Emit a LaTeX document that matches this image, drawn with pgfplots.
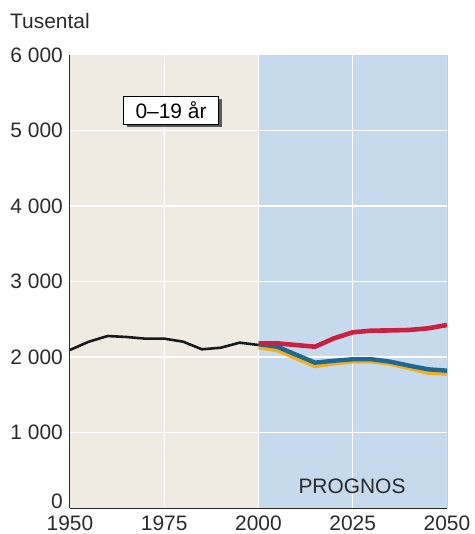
\documentclass[border=0pt]{standalone}
\usepackage{pgfplots}
\pgfplotsset{compat=1.18}
\usepackage{fontspec}
\setmainfont{Liberation Sans}
\usetikzlibrary{shadows}
\definecolor{beige}{HTML}{EFEBE2}
\definecolor{lblue}{HTML}{C6DAEE}
\definecolor{lred}{HTML}{C9213F}
\definecolor{lbl}{HTML}{1E6896}
\definecolor{lyel}{HTML}{F2B01E}
\definecolor{axc}{HTML}{2A2A2A}
\begin{document}
\fontsize{21}{24}\selectfont
\begin{tikzpicture}
\path[use as bounding box] (-70bp,-26bp) rectangle (405bp,508bp);
\begin{axis}[
  at={(0,0)}, anchor=south west,
  scale only axis, width=377bp, height=453bp,
  xmin=1950, xmax=2050, ymin=0, ymax=6000,
  axis x line=bottom, axis y line=left,
  axis line style={-, axc, line width=1.2pt},
  xtick={1950,1975,2000,2025,2050},
  xticklabels={1950,1975,2000,2025,2050},
  ytick={0,1000,2000,3000,4000,5000,6000},
  yticklabels={\smash{\raisebox{-1bp}{0}},1 000,2 000,3 000,4 000,5 000,6 000},
  major tick length=0pt,
  tick label style={font=\fontsize{21}{24}\selectfont, text=axc},
  /pgf/number format/assume math mode=true,
  yticklabel style={xshift=0bp},
  xticklabel style={anchor=north, inner sep=0pt, yshift=-8bp},
  clip=false,
]
\fill[beige] (axis cs:1950,0) rectangle (axis cs:2000,6000);
\fill[lblue] (axis cs:2000,0) rectangle (axis cs:2050,6000);
\foreach \yy in {1000,2000,3000,4000,5000}{
  \edef\tmp{\noexpand\draw[white, line width=1.5pt] (axis cs:1950,\yy) -- (axis cs:2050,\yy);}\tmp
}
\draw[white, line width=1.5pt] (axis cs:1975,0) -- (axis cs:1975,6000);
\draw[white, line width=1.5pt] (axis cs:2000,0) -- (axis cs:2000,6000);
\draw[white, line width=1.5pt] (axis cs:2025,0) -- (axis cs:2025,6000);
\draw[gray!40, line width=0.8pt] (axis cs:2050,0) -- (axis cs:2050,6000);

\addplot[lyel, line width=4.4pt, line join=round] coordinates {
(2000,2130) (2005,2090) (2010,1985) (2015,1880) (2020,1915) (2025,1942) (2030,1942) (2035,1912) (2040,1852) (2045,1792) (2050,1780)};
\addplot[lbl, line width=4.4pt, line join=round] coordinates {
(2000,2170) (2005,2136) (2010,2030) (2015,1925) (2020,1950) (2025,1970) (2030,1970) (2035,1938) (2040,1885) (2045,1837) (2050,1819)};
\addplot[lred, line width=4.6pt, line join=round] coordinates {
(2000,2181) (2005,2181) (2010,2158) (2015,2136) (2020,2247) (2025,2327) (2030,2349) (2035,2352) (2040,2358) (2045,2380) (2050,2424)};
\addplot[black!90, line width=2.6pt, line join=round] coordinates {
(1950,2093) (1955,2203) (1960,2278) (1965,2265) (1970,2243) (1975,2243) (1980,2203) (1985,2102) (1990,2123) (1995,2190) (2000,2159)};

\node[draw=black, line width=0.8pt, fill=white, minimum width=95bp, minimum height=28bp, inner sep=0pt,
  drop shadow={shadow xshift=3bp, shadow yshift=-3bp, fill=black!65, opacity=1}]
  at (axis cs:1976.8,5272) {0–19 år};
\node[text=axc] at (axis cs:2024.8,285) {PROGNOS};
\node[anchor=base west, text=axc, inner sep=0pt] at (-60bp,479bp) {Tusental};
\end{axis}
\end{tikzpicture}
\end{document}
